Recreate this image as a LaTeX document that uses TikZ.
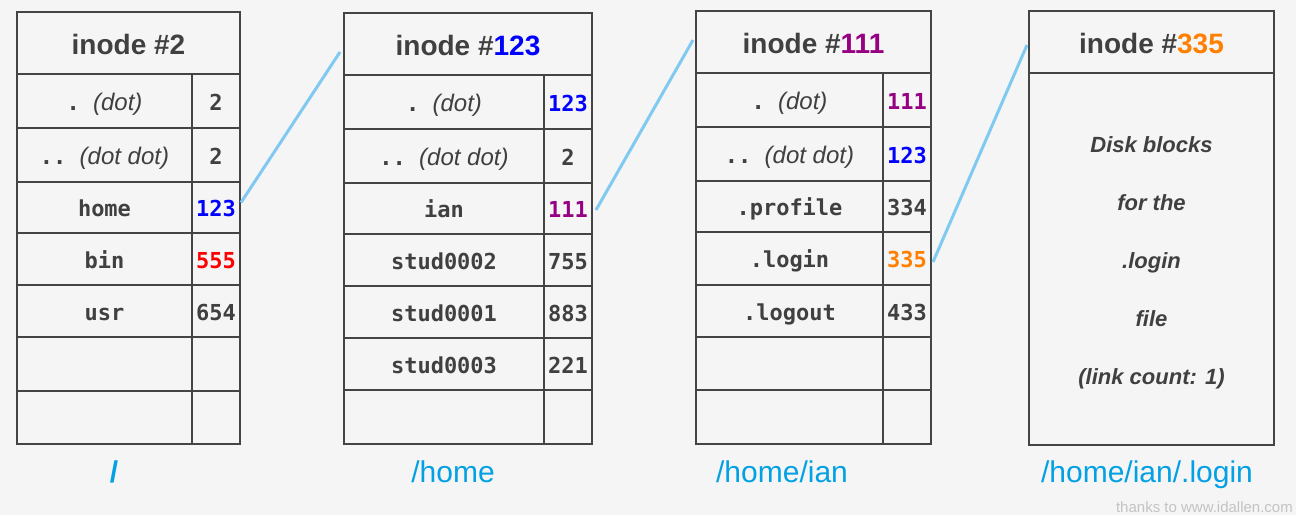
\documentclass[tikz,border=0pt]{standalone}
\usepackage{fontspec}
\setmainfont{Liberation Sans}
\newfontfamily\monof{DejaVu Sans Mono}
\definecolor{bgc}{RGB}{245,245,245}
\definecolor{linec}{RGB}{68,68,68}
\definecolor{textc}{RGB}{64,64,64}
\definecolor{cblue}{RGB}{0,0,255}
\definecolor{cpurple}{RGB}{150,0,130}
\definecolor{corange}{RGB}{255,128,0}
\definecolor{cred}{RGB}{255,0,0}
\definecolor{labc}{RGB}{3,160,228}
\definecolor{conc}{RGB}{128,202,242}
\definecolor{credc}{RGB}{195,195,195}
\newcommand\mycell[7]{%
  \pgfmathsetmacro\cellw{#4-#2}%
  \pgfmathsetmacro\cellh{#5-#3}%
  \node[cellbox,#6,minimum width=\cellw pt,minimum height=\cellh pt] (#1) at ({(#2+#4)/2},{(#3+#5)/2}) {#7};}
% id, x1, xm, x2, y1, y2, namestyle, name, value
\newcommand\myrow[9]{%
  \mycell{#1n}{#2}{#5}{#3}{#6}{#7}{#8}%
  \mycell{#1v}{#3}{#5}{#4}{#6}{monotxt}{#9}}
\newcommand\onedot{{\monof\bfseries\fontsize{22}{24}\selectfont .\ }\textit{(dot)}}
\newcommand\twodot{{\monof\bfseries\fontsize{22}{24}\selectfont ..\ }\textit{(dot dot)}}
\tikzset{
  cellbox/.style={draw=linec, line width=1.8pt, inner sep=0pt, outer sep=0pt,
    text=textc, text height=18pt, text depth=0pt},
  headtxt/.style={font=\fontsize{28}{30}\selectfont\bfseries, text height=23pt},
  monotxt/.style={font=\monof\fontsize{22}{24}\selectfont\bfseries},
  dottxt/.style={font=\fontsize{24}{26}\selectfont},
  emptytxt/.style={},
  labtxt/.style={text=labc, font=\fontsize{30}{32}\selectfont, anchor=base, inner sep=0pt},
  bodytxt/.style={text=textc, font=\fontsize{22}{24}\selectfont\bfseries\itshape, anchor=base, inner sep=0pt},
  conn/.style={draw=conc, line width=3pt},
  credtxt/.style={text=credc, font=\fontsize{15}{16}\selectfont, anchor=base east, inner sep=0pt}
}
\begin{document}
\begin{tikzpicture}[x=1pt,y=-1pt]
\useasboundingbox[fill=bgc] (0,0) rectangle (1296,515);

% ---------- table A: inode #2 ----------
\mycell{Ah}{17}{12}{240}{74}{headtxt}{inode \#2}
\myrow{A1}{17}{192}{240}{74}{128}{dottxt}{\onedot}{2}
\myrow{A2}{17}{192}{240}{128}{182}{dottxt}{\twodot}{2}
\myrow{A3}{17}{192}{240}{182}{233}{monotxt}{home}{\textcolor{cblue}{123}}
\myrow{A4}{17}{192}{240}{233}{285}{monotxt}{bin}{\textcolor{cred}{555}}
\myrow{A5}{17}{192}{240}{285}{337}{monotxt}{usr}{654}
\myrow{A6}{17}{192}{240}{337}{391}{emptytxt}{}{}
\myrow{A7}{17}{192}{240}{391}{444}{emptytxt}{}{}

% ---------- table B: inode #123 ----------
\mycell{Bh}{344}{13}{592}{75}{headtxt}{inode \#\textcolor{cblue}{123}}
\myrow{B1}{344}{544}{592}{75}{129}{dottxt}{\onedot}{\textcolor{cblue}{123}}
\myrow{B2}{344}{544}{592}{129}{183}{dottxt}{\twodot}{2}
\myrow{B3}{344}{544}{592}{183}{234}{monotxt}{ian}{\textcolor{cpurple}{111}}
\myrow{B4}{344}{544}{592}{234}{286}{monotxt}{stud0002}{755}
\myrow{B5}{344}{544}{592}{286}{338}{monotxt}{stud0001}{883}
\myrow{B6}{344}{544}{592}{338}{390}{monotxt}{stud0003}{221}
\myrow{B7}{344}{544}{592}{390}{444}{emptytxt}{}{}

% ---------- table C: inode #111 ----------
\mycell{Ch}{696}{11}{931}{73}{headtxt}{inode \#\textcolor{cpurple}{111}}
\myrow{C1}{696}{883}{931}{73}{127}{dottxt}{\onedot}{\textcolor{cpurple}{111}}
\myrow{C2}{696}{883}{931}{127}{181}{dottxt}{\twodot}{\textcolor{cblue}{123}}
\myrow{C3}{696}{883}{931}{181}{232}{monotxt}{.profile}{334}
\myrow{C4}{696}{883}{931}{232}{285}{monotxt}{.login}{\textcolor{corange}{335}}
\myrow{C5}{696}{883}{931}{285}{337}{monotxt}{.logout}{433}
\myrow{C6}{696}{883}{931}{337}{390}{emptytxt}{}{}
\myrow{C7}{696}{883}{931}{390}{444}{emptytxt}{}{}

% ---------- table D: inode #335 ----------
\mycell{Dh}{1029}{11}{1274}{73}{headtxt}{inode \#\textcolor{corange}{335}}
\mycell{Db}{1029}{73}{1274}{445}{emptytxt}{}
\node[bodytxt] (D1) at (1151.5,152.7) {Disk blocks};
\node[bodytxt] (D2) at (1151.5,210.7) {for the};
\node[bodytxt] (D3) at (1151.5,268.3) {.login};
\node[bodytxt] (D4) at (1151.5,326) {file};
\node[bodytxt] (D5) at (1151.5,384) {(link count: 1)};

% ---------- connectors ----------
\draw[conc, line width=3pt] ([shift={(1,-5)}]A3v.east) -- ([shift={(-4,8)}]Bh.west);
\draw[conc, line width=3pt] ([shift={(4,1.5)}]B3v.east) -- ([shift={(-3,-2)}]Ch.west);
\draw[conc, line width=3pt] ([shift={(2,3.5)}]C4v.east) -- ([shift={(-2,3)}]Dh.west);

% ---------- path labels ----------
\node[labtxt, font=\fontsize{30}{32}\selectfont\bfseries] (LA) at (114,482) {/};
\node[labtxt] (LB) at (453,482) {/home};
\node[labtxt] (LC) at (782,482) {/home/ian};
\node[labtxt] (LD) at (1147,482) {/home/ian/.login};

\node[credtxt] (cred) at (1293,512) {thanks to www.idallen.com};
\end{tikzpicture}
\end{document}
